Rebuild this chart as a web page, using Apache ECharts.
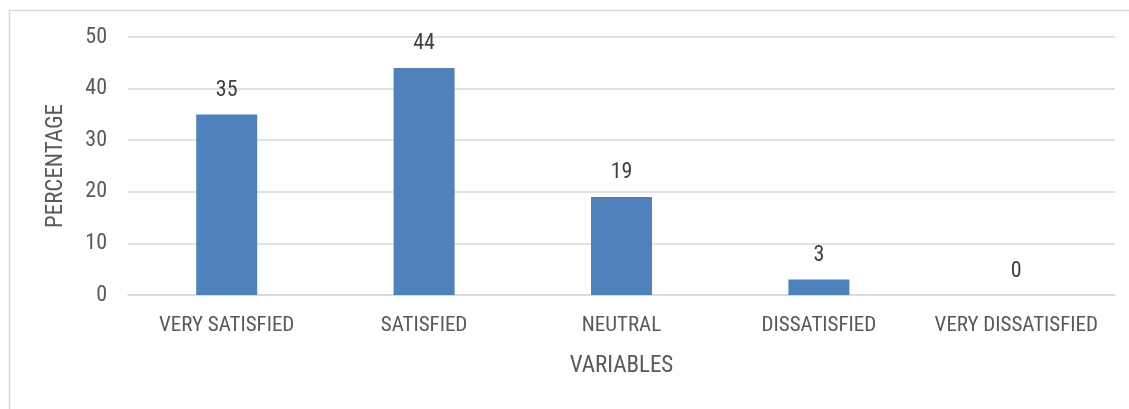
<!DOCTYPE html>
<html>
<head>
<meta charset="utf-8">
<script src="https://cdn.jsdelivr.net/npm/echarts@6/dist/echarts.min.js"></script>
<style>
html,body{margin:0;padding:0;background:#fff;}
#c{width:1129px;height:409px;}
</style>
</head>
<body>
<div id="c"></div>
<script>
const categories = ['VERY SATISFIED', 'SATISFIED', 'NEUTRAL', 'DISSATISFIED', 'VERY DISSATISFIED'];
const percentages = [35, 44, 19, 3, 0];
const yTicks = [0, 10, 20, 30, 40, 50];

const FONT = "'Liberation Sans Narrow', 'Roboto Condensed', 'Liberation Sans', sans-serif";
const chart = echarts.init(document.getElementById('c'), null, {renderer: 'canvas'});
chart.setOption({
  animation: false,
  backgroundColor: '#fff',
  graphic: [{
    type: 'rect', left: 7, top: 8, z: -1,
    shape: {width: 1200, height: 500},
    style: {fill: 'none', stroke: '#d9d9d9', lineWidth: 1.5}
  }],
  grid: {left: 128, right: 14, top: 37, bottom: 114},
  xAxis: {
    type: 'category',
    data: categories,
    name: 'VARIABLES',
    nameLocation: 'middle',
    nameGap: 60,
    nameTextStyle: {fontFamily: FONT, fontSize: 23, color: '#595959'},
    axisLine: {lineStyle: {color: '#d9d9d9', width: 1.5}},
    axisTick: {show: false},
    axisLabel: {fontFamily: FONT, fontSize: 21, color: '#595959', margin: 20, interval: 0}
  },
  yAxis: {
    type: 'value',
    min: yTicks[0], max: yTicks[yTicks.length - 1], interval: 10,
    name: 'PERCENTAGE',
    nameLocation: 'middle',
    nameGap: 60,
    nameRotate: 90,
    nameTextStyle: {fontFamily: FONT, fontSize: 23, color: '#595959'},
    axisLine: {show: false},
    axisTick: {show: false},
    axisLabel: {fontFamily: FONT, fontSize: 22, color: '#595959', margin: 21},
    splitLine: {lineStyle: {color: '#d9d9d9', width: 1.5}}
  },
  series: [{
    type: 'bar',
    data: percentages,
    barWidth: 61,
    itemStyle: {color: '#4f81bd'},
    label: {
      show: true, position: 'top', distance: 13,
      fontFamily: FONT, fontSize: 22, color: '#404040'
    }
  }]
});
</script>
</body>
</html>
